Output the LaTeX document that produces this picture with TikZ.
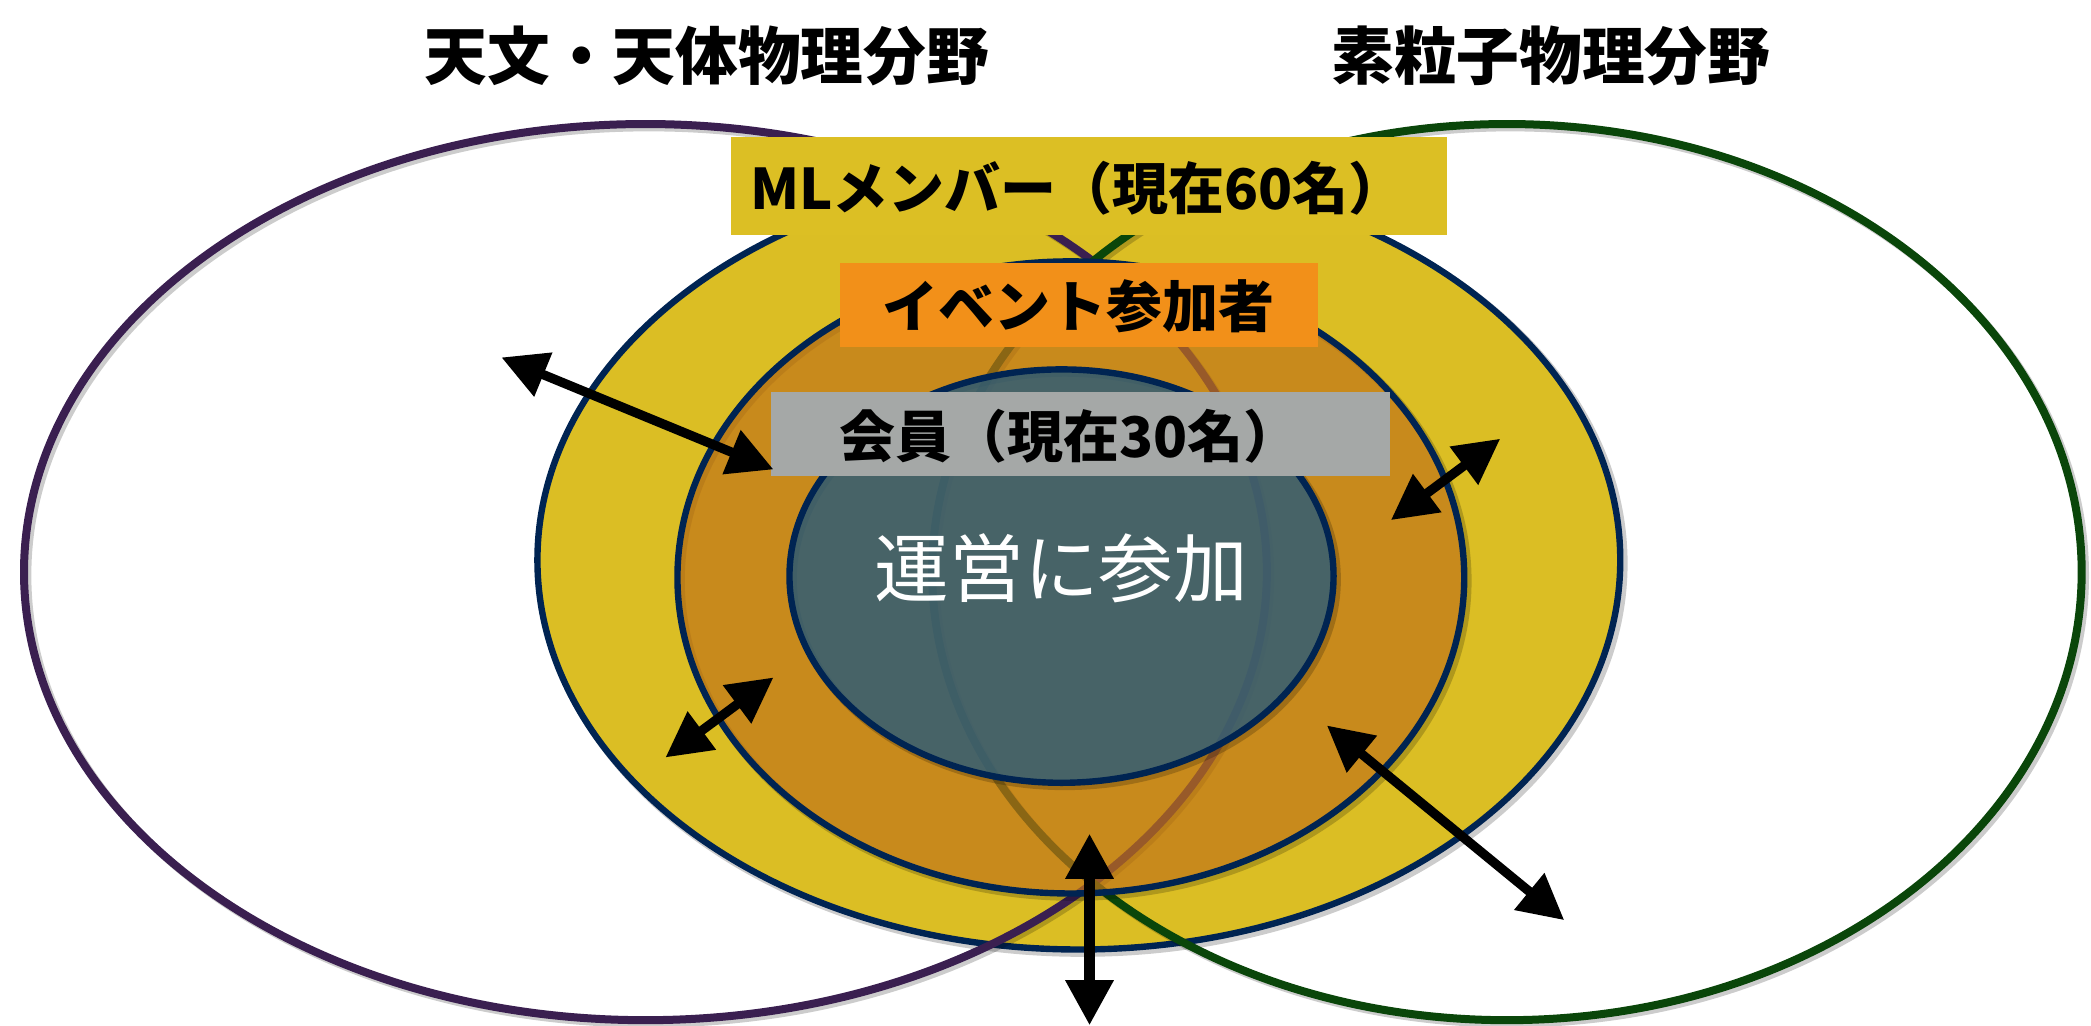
\documentclass[tikz,border=0pt]{standalone}
\usepackage{fontspec}
\newfontfamily\jp{Noto Sans CJK JP}
\usetikzlibrary{arrows.meta,shapes.geometric}
\definecolor{mlyellow}{RGB}{219,190,36}
\definecolor{evorange}{RGB}{193,116,25}
\definecolor{opteal}{RGB}{50,93,116}
\definecolor{navy}{RGB}{0,36,82}
\definecolor{astro}{RGB}{58,31,80}
\definecolor{particle}{RGB}{10,70,10}
\definecolor{boxyellow}{RGB}{220,191,36}
\definecolor{boxorange}{RGB}{242,144,25}
\definecolor{boxgray}{RGB}{165,168,167}
\tikzset{
  ell/.style={ellipse, inner sep=0pt},
  field/.style={ell, draw=#1, line width=6pt},
  ring/.style={ell, draw=navy, line width=4.8pt},
  shade/.style={draw=black, draw opacity=0.2, line width=6pt},
  lbl/.style={rectangle, inner sep=0pt, fill=#1},
  bigtxt/.style={font=\jp\bfseries\fontsize{42}{50}\selectfont, text=black},
  titletxt/.style={font=\jp\bfseries\fontsize{47}{56}\selectfont, text=black},
  dbl/.style={line width=7pt, draw=black,
    {Triangle[length=34pt,width=34pt]}-{Triangle[length=34pt,width=34pt]}}
}
\begin{document}
\begin{tikzpicture}[x=1pt,y=-1pt]
\useasboundingbox (0,0) rectangle (1568,769);
% ML members
\draw[shade] (811.5,422.5) ellipse [x radius=406, y radius=292];
\node[ring, fill=mlyellow, minimum width=812pt, minimum height=584pt] (ml) at (809,420) {};
% fields
\draw[shade] (486.5,431.5) ellipse [x radius=466, y radius=336];
\draw[shade] (1132.5,431.5) ellipse [x radius=431, y radius=336];
\node[field=astro, minimum width=932pt, minimum height=672pt] (astroF) at (484,429) {};
\node[field=particle, minimum width=862pt, minimum height=672pt] (partF) at (1130,429) {};
% event participants
\draw[shade] (805.5,435.5) ellipse [x radius=295, y radius=237];
\node[ring, fill=evorange, fill opacity=0.7, minimum width=590pt, minimum height=474pt] (ev) at (803,433) {};
% operation
\draw[shade] (798.5,434.5) ellipse [x radius=204, y radius=155];
\node[ring, fill=opteal, fill opacity=0.86, minimum width=408pt, minimum height=310pt] (op) at (796,432) {};
% label boxes
\node[lbl=boxyellow, minimum width=537pt, minimum height=73pt] (mlbox) at (816.5,139.5) {};
\node[bigtxt] (mltxt) at (808,141) {MLメンバー（現在60名）};
\node[lbl=boxorange, minimum width=358pt, minimum height=63pt] (evbox) at (809,228.5) {};
\node[bigtxt] (evtxt) at (809,230) {イベント参加者};
\node[lbl=boxgray, minimum width=464pt, minimum height=63pt] (membox) at (810,325.5) {};
\node[bigtxt] (memtxt) at (802,327) {会員（現在30名）};
\node[font=\jp\fontsize{56}{64}\selectfont, text=white] (optxt) at (796,426) {運営に参加};
% titles
\node[titletxt] (t1) at (530,42) {天文・天体物理分野};
\node[titletxt] (t2) at (1163,42) {素粒子物理分野};
% arrows
\coordinate (a1s) at (376,268); \coordinate (a1e) at (580,352);
\coordinate (a2s) at (499,568); \coordinate (a2e) at (580,508);
\coordinate (a3s) at (1043,390); \coordinate (a3e) at (1125,329);
\coordinate (a4s) at (995,544); \coordinate (a4e) at (1173,690);
\coordinate (a5s) at (817,625); \coordinate (a5e) at (817,769);
\draw[dbl] (a1s) -- (a1e);
\draw[dbl] (a2s) -- (a2e);
\draw[dbl] (a3s) -- (a3e);
\draw[dbl] (a4s) -- (a4e);
\draw[dbl, line width=8.5pt] (a5s) -- (a5e);
\end{tikzpicture}
\end{document}
